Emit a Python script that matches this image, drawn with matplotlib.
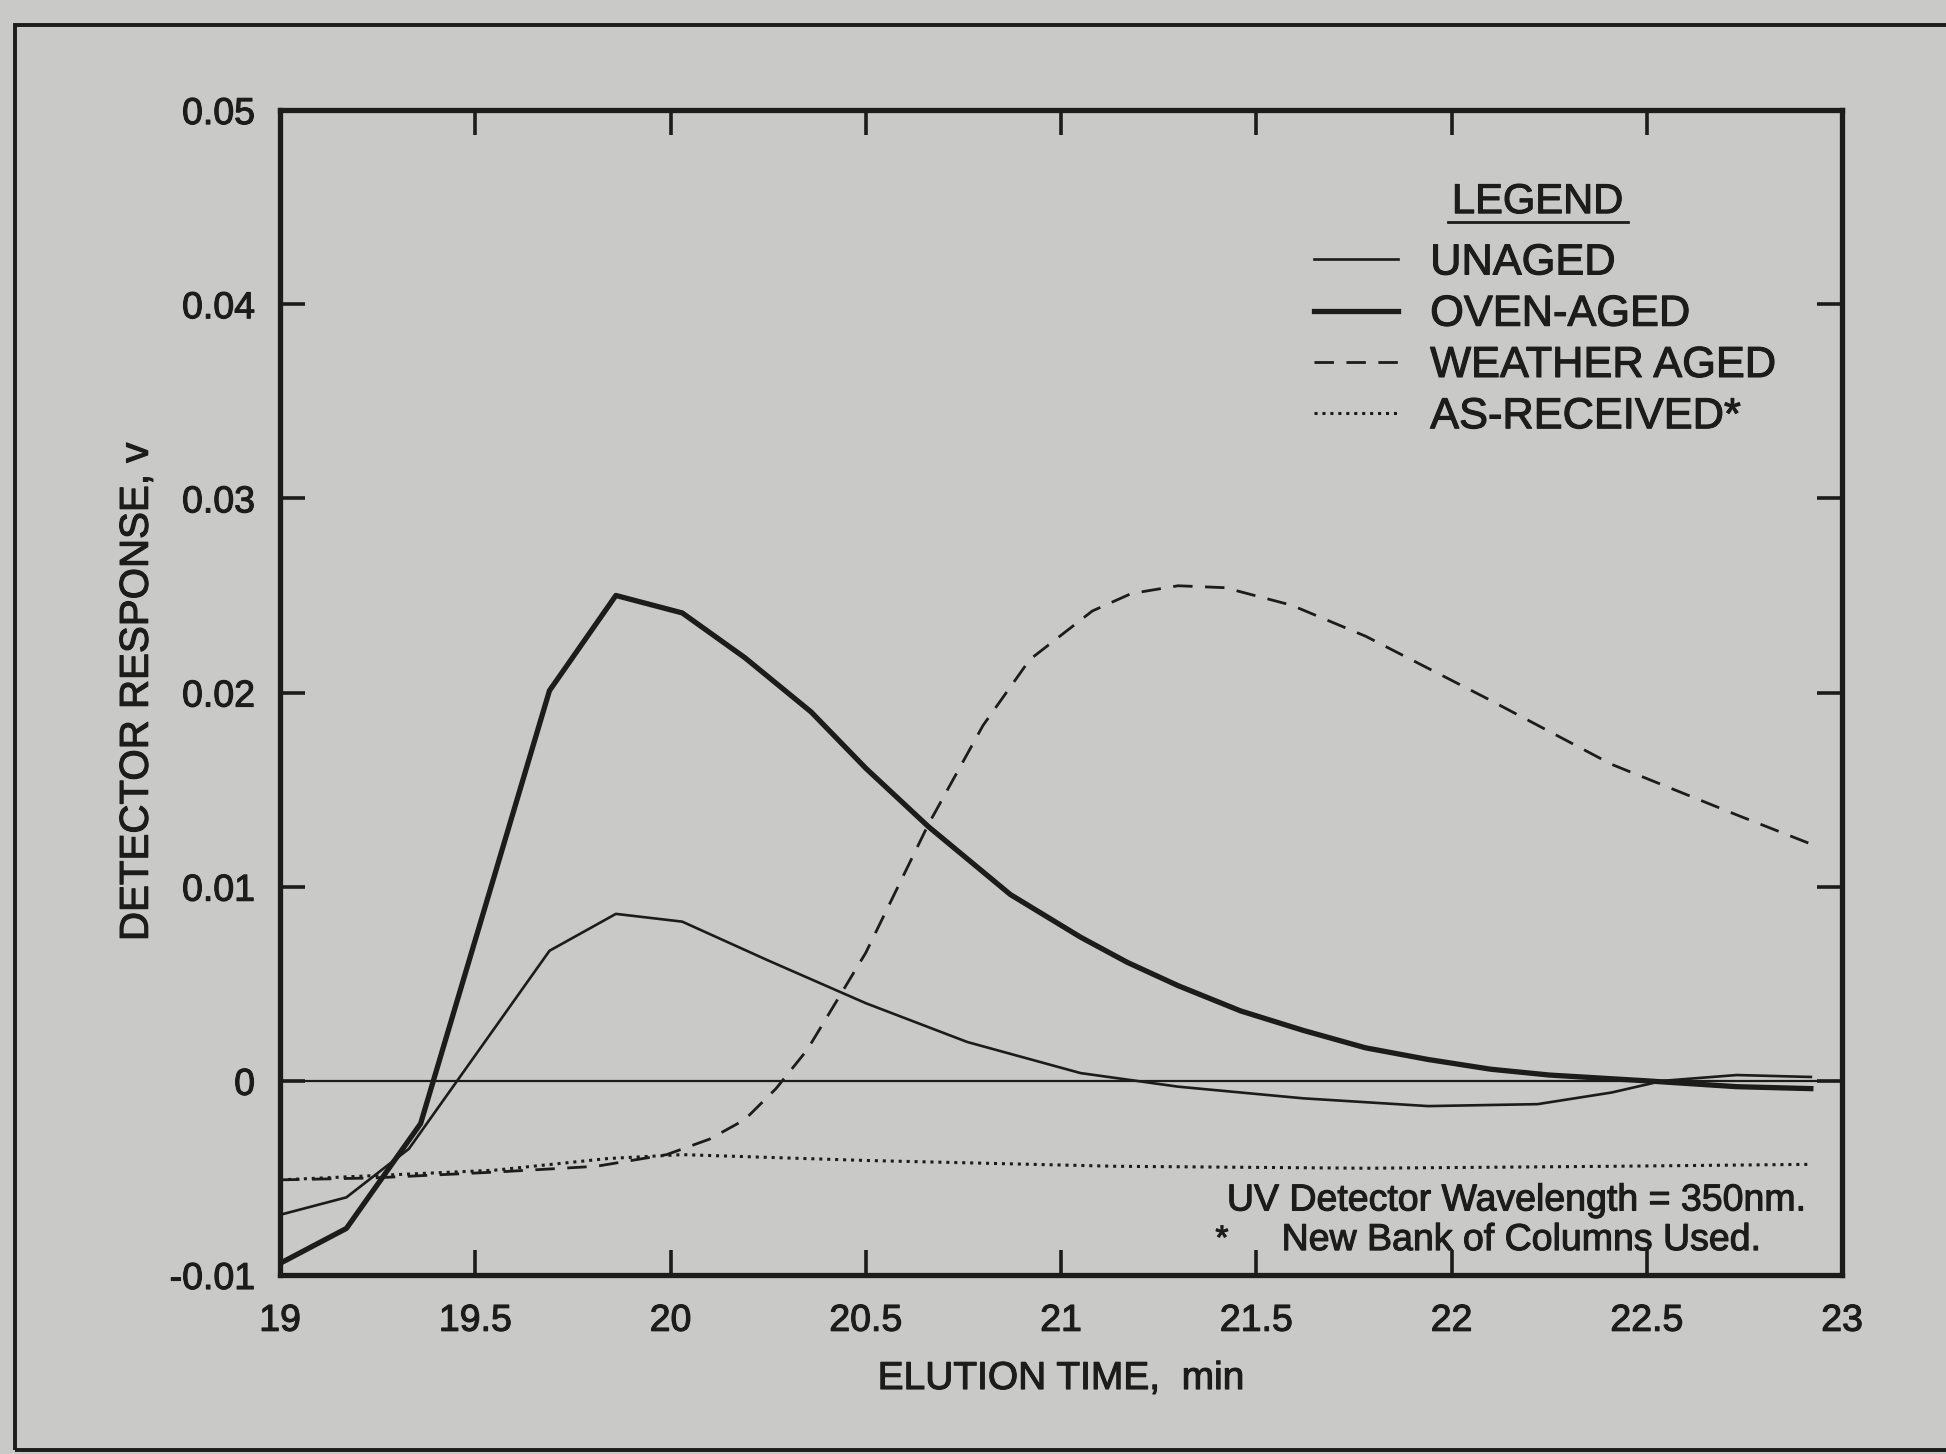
import matplotlib.pyplot as plt
from matplotlib.patches import Rectangle
from matplotlib.text import Text
from matplotlib import patheffects

plt.rcParams['font.family'] = ['Liberation Sans', 'DejaVu Sans']

paper = '#c9c9c7'
ink = '#1c1c1c'

# elution time (min) / detector response (v)
unaged_t = [19.0, 19.17, 19.33, 19.69, 19.86, 20.03, 20.25, 20.5, 20.76, 21.05, 21.3, 21.62, 21.94, 22.22, 22.41, 22.54, 22.73, 22.92]
unaged_v = [-0.0069, -0.006, -0.0035, 0.0067, 0.0086, 0.0082, 0.0062, 0.004, 0.002, 0.0004, -0.0003, -0.0009, -0.0013, -0.0012, -0.0006, 0.0, 0.0003, 0.0002]

oven_t = [19.0, 19.17, 19.36, 19.69, 19.86, 20.03, 20.19, 20.36, 20.5, 20.66, 20.87, 21.05, 21.17, 21.3, 21.46, 21.62, 21.78, 21.94, 22.1, 22.25, 22.5, 22.73, 22.92]
oven_v = [-0.0094, -0.0076, -0.0022, 0.0201, 0.025, 0.0241, 0.0218, 0.019, 0.0161, 0.0131, 0.0096, 0.0074, 0.0061, 0.0049, 0.0036, 0.0026, 0.0017, 0.0011, 0.0006, 0.0003, 0.0, -0.0003, -0.0004]

weather_t = [19.0, 19.24, 19.55, 19.81, 19.99, 20.1, 20.19, 20.27, 20.35, 20.5, 20.66, 20.8, 20.92, 21.08, 21.18, 21.3, 21.42, 21.59, 21.78, 22.09, 22.41, 22.73, 22.92]
weather_v = [-0.0051, -0.005, -0.0047, -0.0044, -0.0038, -0.003, -0.002, -0.0004, 0.0016, 0.0066, 0.0132, 0.0183, 0.0217, 0.0242, 0.0251, 0.0255, 0.0254, 0.0245, 0.0229, 0.0197, 0.0163, 0.0137, 0.0122]

received_t = [19.0, 19.55, 19.84, 20.03, 20.5, 21.14, 21.78, 22.41, 22.92]
received_v = [-0.0051, -0.0046, -0.004, -0.0038, -0.0041, -0.0044, -0.0045, -0.0044, -0.0043]

xticks = [19, 19.5, 20, 20.5, 21, 21.5, 22, 22.5, 23]
xtick_labels = ['19', '19.5', '20', '20.5', '21', '21.5', '22', '22.5', '23']
yticks = [-0.01, 0, 0.01, 0.02, 0.03, 0.04, 0.05]
ytick_labels = ['-0.01', '0', '0.01', '0.02', '0.03', '0.04', '0.05']

fig = plt.figure(figsize=(9.73, 7.27), dpi=200, facecolor=paper)
ax = fig.add_axes([0.1439, 0.1231, 0.8027, 0.8012])
ax.set_facecolor(paper)

# page frame around the figure
fig.patches.append(Rectangle((0.0077, 0.0028), 1.2, 0.98, transform=fig.transFigure,
                             fill=False, edgecolor=ink, linewidth=1.4))

ax.axhline(0, color=ink, lw=0.8)
h1, = ax.plot(unaged_t, unaged_v, color=ink, lw=0.95)
h2, = ax.plot(oven_t, oven_v, color=ink, lw=1.9)
h3, = ax.plot(weather_t, weather_v, color=ink, lw=1.0, linestyle=(0, (7, 4.5)))
h4, = ax.plot(received_t, received_v, color=ink, lw=1.1, linestyle=(0, (1, 1.6)))

ax.set_xlim(19, 23)
ax.set_ylim(-0.01, 0.05)
ax.set_xticks(xticks)
ax.set_xticklabels(xtick_labels)
ax.set_yticks(yticks)
ax.set_yticklabels(ytick_labels)
ax.tick_params(direction='in', length=9, width=1.3, colors=ink, labelsize=13.5,
               top=True, right=True)
ax.tick_params(axis='x', pad=10)
ax.tick_params(axis='y', pad=9)
for s in ax.spines.values():
    s.set_linewidth(1.9)
    s.set_color(ink)

ax.set_xlabel('ELUTION TIME,  min', fontsize=14, color=ink, labelpad=8)
ax.set_ylabel('DETECTOR RESPONSE, v', fontsize=14.5, color=ink, labelpad=5)

leg = ax.legend([h1, h2, h3, h4], ['UNAGED', 'OVEN-AGED', 'WEATHER AGED', 'AS-RECEIVED*'],
                loc='upper left', bbox_to_anchor=(0.637, 0.919), frameon=False,
                fontsize=15.6, handlelength=1.93, handletextpad=0.75, labelspacing=0.26,
                labelcolor=ink)
ax.text(0.805, 0.921, 'LEGEND', transform=ax.transAxes, ha='center', va='center',
        fontsize=15, color=ink)
ax.plot([0.748, 0.863], [0.9035, 0.9035], transform=ax.transAxes, color=ink, lw=1.0)

ax.text(0.977, 0.064, 'UV Detector Wavelength = 350nm.', transform=ax.transAxes,
        ha='right', va='center', fontsize=13.5, color=ink)
ax.text(0.603, 0.030, '*', transform=ax.transAxes, ha='center', va='center',
        fontsize=12, color=ink)
ax.text(0.948, 0.030, 'New Bank of Columns Used.', transform=ax.transAxes,
        ha='right', va='center', fontsize=13.5, color=ink)

# slightly heavier type, like the printed original
for t in fig.findobj(Text):
    t.set_path_effects([patheffects.withStroke(linewidth=0.4, foreground=ink)])

fig.savefig('out.png', dpi=200, facecolor=paper)
